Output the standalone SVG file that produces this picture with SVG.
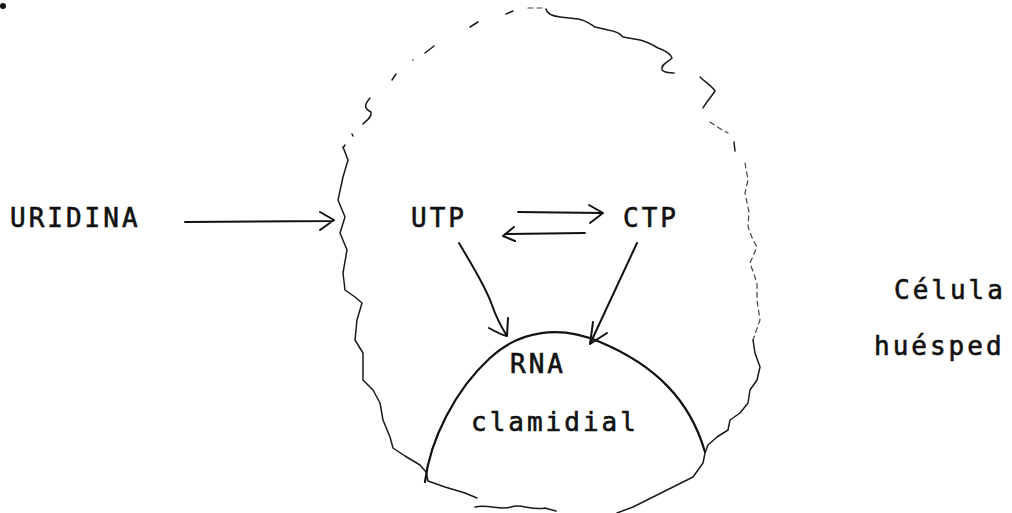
<svg xmlns="http://www.w3.org/2000/svg" width="1012" height="513" viewBox="0 0 1012 513">
  <style>
    .t { font-family: "DejaVu Sans Mono", "Liberation Mono", monospace; font-size: 26px; letter-spacing: 3px; fill: #111; stroke: #111; stroke-width: 0.6; }
    .ln { fill: none; stroke: #111; stroke-width: 2; stroke-linecap: round; stroke-linejoin: round; }
    .mem { fill: none; stroke: #1a1a1a; stroke-width: 1.5; stroke-linecap: round; stroke-linejoin: round; }
    .faint { fill: none; stroke: #444; stroke-width: 1.2; stroke-linecap: round; stroke-dasharray: 5 4; }
    .arc { fill: none; stroke: #111; stroke-width: 2.2; stroke-linecap: round; }
  </style>
  <rect width="1012" height="513" fill="#fff"/>

  <!-- stray mark at the top-left corner -->
  <circle cx="3" cy="6" r="3" fill="#111"/>

  <!-- host cell: wavy, partly broken membrane -->
  <g id="cell">
    <!-- upper left: broken dashes -->
    <path class="mem" d="M343,148 L345,145"/>
    <path class="mem" d="M352,134 L353,136"/>
    <path class="mem" d="M370,98 C365,104 363,108 371,112 C372,117 367,120 363,124"/>
    <path class="mem" stroke-width="2" d="M396,74 L392,80"/>
    <circle cx="413" cy="60" r="0.8" fill="#333"/>
    <path class="mem" d="M425,53 L434,46"/>
    <path class="mem" d="M470,27 L478,22"/>
    <path class="mem" stroke-width="2.2" d="M506,14 L513,11"/>
    <path class="faint" d="M528,8 L542,8"/>
    <!-- top right -->
    <path class="mem" d="M546,9 C547,14 552,16 560,17 L578,19 C586,20 590,24 595,27 L608,30 C614,31 620,33 623,37 L640,40 C648,42 653,45 658,48 C664,50 670,53 672,58 C668,62 660,65 662,70 C665,73 670,73 674,73"/>
    <path class="mem" d="M700,77 C705,82 712,86 715,91 C712,96 707,101 703,108"/>
    <path class="faint" d="M710,122 C716,126 722,130 728,133"/>
    <path class="mem" d="M734,142 L735,151"/>
    <!-- right side -->
    <path class="faint" d="M745,163 L748,180 L745,193 L749,212 L748,227 L753,240 L757,247 L750,263 L757,283 L757,300 L760,320 L753,340"/>
    <path class="mem" d="M753,340 L755,353 L760,367 L757,380 L750,390 L748,403 L740,413 L730,420 L728,430 L717,437 L708,445 L705,453 L703,463 L693,477 L673,487 L653,497 L633,507 L617,513"/>
    <!-- left side -->
    <path class="mem" d="M343,147 L348,160 L343,177 L338,200 L345,217 L340,233 L347,250 L343,273 L345,290 L355,297 L362,303 L357,320 L355,340 L363,353 L363,380 L373,390 L380,403 L383,420 L390,437 L393,448 L405,456 L420,465 L426,472 L428,481 L445,487 L465,493 L477,498"/>
    <!-- bottom -->
    <path class="mem" d="M475,507 C490,504 500,511 511,507 C521,503 531,511 545,508 L556,511"/>
    <text class="t" x="894" y="299">Célula</text>
    <text class="t" x="874" y="355">huésped</text>
  </g>

  <!-- chlamydial RNA -->
  <g id="rna">
    <path class="arc" d="M425,482 C430,440 455,390 490,358 C520,330 560,325 600,342 C655,365 690,400 705,452"/>
    <text class="t" x="510" y="373">RNA</text>
    <text class="t" x="471" y="431">clamidial</text>
  </g>

  <g id="uridina">
    <text class="t" x="10" y="227">URIDINA</text>
  </g>
  <g id="utp">
    <text class="t" x="411" y="227">UTP</text>
  </g>
  <g id="ctp">
    <text class="t" x="623" y="227">CTP</text>
  </g>

  <!-- connectors -->
  <g id="connectors">
    <path class="ln" d="M185,222 L333,221 M320,212 L334,220 L320,230"/>
    <path class="ln" d="M518,212 L601,213 M589,205 L603,213 L590,223"/>
    <path class="ln" d="M585,233 L505,234 M514,227 L503,236 L515,241"/>
    <path class="ln" d="M459,243 C470,262 485,285 492,305 C497,320 502,328 507,336 M489,328 C496,332 502,335 507,336 L508,318"/>
    <path class="ln" d="M637,243 L590,344 M593,322 L590,344 L607,333"/>
  </g>
</svg>
